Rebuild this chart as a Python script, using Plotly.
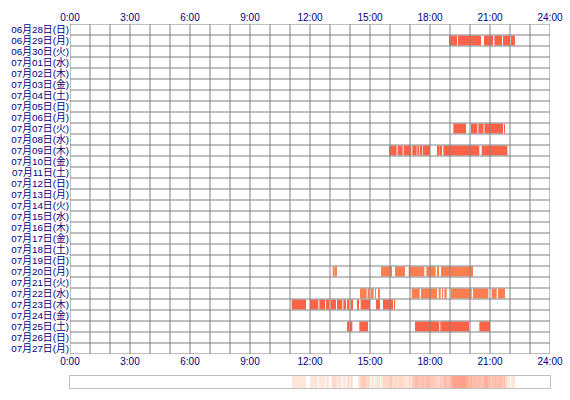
import numpy as np
import plotly.graph_objects as go

# ---- data ----
days = ["06月28日(日)", "06月29日(月)", "06月30日(火)", "07月01日(水)", "07月02日(木)",
        "07月03日(金)", "07月04日(土)", "07月05日(日)", "07月06日(月)", "07月07日(火)",
        "07月08日(水)", "07月09日(木)", "07月10日(金)", "07月11日(土)", "07月12日(日)",
        "07月13日(月)", "07月14日(火)", "07月15日(水)", "07月16日(木)", "07月17日(金)",
        "07月18日(土)", "07月19日(日)", "07月20日(月)", "07月21日(火)", "07月22日(水)",
        "07月23日(木)", "07月24日(金)", "07月25日(土)", "07月26日(日)", "07月27日(月)"]

hour_ticks = [0, 3, 6, 9, 12, 15, 18, 21, 24]
hour_labels = ["0:00", "3:00", "6:00", "9:00", "12:00", "15:00", "18:00", "21:00", "24:00"]

sessions_0629 = [("18:57", "19:21"), ("19:24", "20:33"), ("20:42", "21:09"),
                 ("21:13", "21:36"), ("21:39", "22:00"), ("22:03", "22:15")]
sessions_0707 = [("19:10", "19:48"), ("20:03", "20:22"), ("20:25", "20:40"),
                 ("20:43", "21:39"), ("21:42", "21:45")]
sessions_0709 = [("15:57", "16:20"), ("16:23", "16:38"), ("16:41", "17:04"),
                 ("17:07", "17:20"), ("17:22", "17:28"), ("17:31", "17:35"),
                 ("17:38", "18:00"), ("18:21", "18:25"), ("18:28", "18:36"),
                 ("18:40", "20:28"), ("20:35", "21:52")]
sessions_0720 = [("13:08", "13:14"), ("13:16", "13:20"), ("15:33", "16:06"),
                 ("16:15", "16:45"), ("16:56", "17:43"), ("17:49", "18:17"),
                 ("18:21", "18:27"), ("18:33", "20:09")]
sessions_0722 = [("14:30", "14:50"), ("14:53", "14:59"), ("15:03", "15:11"),
                 ("15:15", "15:18"), ("15:26", "15:29"), ("17:05", "17:29"),
                 ("17:33", "18:21"), ("18:26", "18:32"), ("18:36", "18:39"),
                 ("18:43", "18:50"), ("19:02", "20:05"), ("20:09", "20:55"),
                 ("21:05", "21:20"), ("21:24", "21:45")]
sessions_0723 = [("11:05", "11:48"), ("12:00", "12:25"), ("12:28", "12:45"),
                 ("12:48", "12:58"), ("13:02", "13:18"), ("13:21", "13:37"),
                 ("13:40", "13:48"), ("13:51", "13:57"), ("14:02", "14:09"),
                 ("14:23", "14:27"), ("14:32", "15:00"), ("15:18", "15:30"),
                 ("15:39", "16:09"), ("16:12", "16:15")]
sessions_0725 = [("13:51", "13:59"), ("14:00", "14:07"), ("14:28", "14:48"),
                 ("14:50", "14:53"), ("17:15", "18:28"), ("18:31", "19:57"),
                 ("20:28", "21:00")]

sessions = {
    "06月29日(月)": sessions_0629,
    "07月07日(火)": sessions_0707,
    "07月09日(木)": sessions_0709,
    "07月20日(月)": sessions_0720,
    "07月22日(水)": sessions_0722,
    "07月23日(木)": sessions_0723,
    "07月25日(土)": sessions_0725,
}
coral_days = ["07月20日(月)", "07月22日(水)"]

COLOR_MAIN = "#FF6347"
COLOR_ALT = "#FF7F50"
GRID = "#808080"
LABEL = "#000080"
FONT = "Liberation Sans, Noto Sans CJK JP"


def to_h(t):
    h, m = t.split(":")
    return int(h) + int(m) / 60.0


fig = go.Figure()

groups = {COLOR_MAIN: ([], [], []), COLOR_ALT: ([], [], [])}
counts = np.zeros(1440)
for day, segs in sessions.items():
    idx = days.index(day)
    col = COLOR_ALT if day in coral_days else COLOR_MAIN
    ys, bases, lens = groups[col]
    for s, e in segs:
        hs, he = to_h(s), to_h(e)
        ys.append(idx + 0.5)
        bases.append(hs)
        lens.append(he - hs)
        counts[int(round(hs * 60)):int(round(he * 60))] += 1

for col, (ys, bases, lens) in groups.items():
    fig.add_trace(go.Bar(orientation="h", y=ys, base=bases, x=lens, width=0.9,
                         marker=dict(color=col, line=dict(width=0)),
                         xaxis="x", yaxis="y", showlegend=False, hoverinfo="skip"))

z = np.where(counts > 0, counts, np.nan)[None, :]
fig.add_trace(go.Heatmap(z=z, x0=0.5 / 60, dx=1 / 60, y=[0], xaxis="x2", yaxis="y2",
                         zmin=1, zmax=float(counts.max()),
                         colorscale=[[0, "#FFE6DA"], [1, "#FFA08A"]],
                         showscale=False, hoverinfo="skip"))

# dummy trace so the bottom time axis is rendered
fig.add_trace(go.Scatter(x=[0], y=[0], xaxis="x3", yaxis="y", mode="markers",
                         marker=dict(opacity=0), showlegend=False, hoverinfo="skip"))

shapes = []
for h in range(25):
    shapes.append(dict(type="line", xref="x", yref="y", x0=h, x1=h, y0=0, y1=len(days),
                       line=dict(color=GRID, width=1), layer="above"))
for i in range(len(days) + 1):
    shapes.append(dict(type="line", xref="x", yref="y", x0=0, x1=24, y0=i, y1=i,
                       line=dict(color=GRID, width=1), layer="above"))

W, H = 570, 400
ml, mr, mt, mb = 70, 20, 24, 12
ph = H - mt - mb
main_bottom = (388 - 354) / ph
strip_top = 12 / ph

tickfont = dict(family=FONT, size=10, color=LABEL)
ytickfont = dict(family=FONT, size=9.8, color=LABEL)
fig.update_layout(
    width=W, height=H,
    margin=dict(l=ml, r=mr, t=mt, b=mb, pad=0, autoexpand=False),
    paper_bgcolor="white", plot_bgcolor="white",
    barmode="overlay",
    shapes=shapes,
    xaxis=dict(domain=[0, 1], range=[0, 24], side="top", anchor="y",
               tickmode="array", tickvals=hour_ticks, ticktext=hour_labels,
               showgrid=False, zeroline=False, ticks="", tickfont=tickfont,
               automargin=False),
    xaxis3=dict(overlaying="x", range=[0, 24], side="bottom", anchor="y",
                tickmode="array", tickvals=hour_ticks, ticktext=hour_labels,
                showgrid=False, zeroline=False, ticks="", tickfont=tickfont,
                automargin=False),
    yaxis=dict(domain=[main_bottom, 1], range=[len(days), 0], anchor="x",
               tickmode="array", tickvals=[i + 0.5 for i in range(len(days))],
               ticktext=days, showgrid=False, zeroline=False, ticks="",
               tickfont=ytickfont, automargin=False),
    xaxis2=dict(domain=[0, 1], range=[0, 24], anchor="y2", showticklabels=False,
                showgrid=False, zeroline=False, ticks="", showline=True, mirror=True,
                linecolor="#C0C0C0", linewidth=1, automargin=False),
    yaxis2=dict(domain=[0, strip_top], range=[-0.5, 0.5], anchor="x2",
                showticklabels=False, showgrid=False, zeroline=False, ticks="",
                showline=True, mirror=True, linecolor="#C0C0C0", linewidth=1,
                automargin=False),
)

fig.write_html("out.html")
